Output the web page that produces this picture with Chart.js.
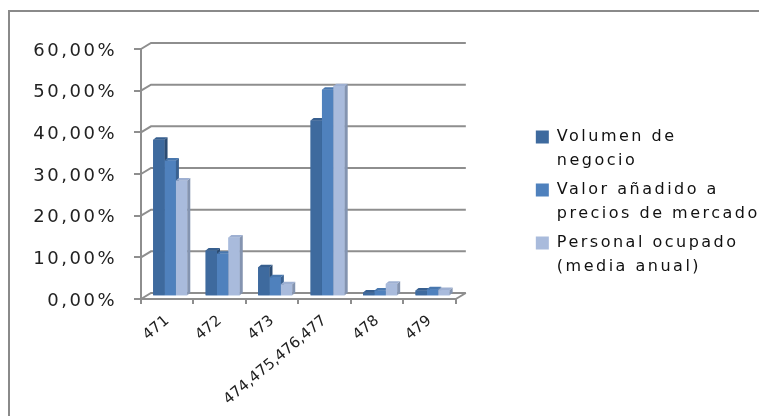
<!DOCTYPE html>
<html>
<head>
<meta charset="utf-8">
<script src="https://cdn.jsdelivr.net/npm/chart.js@4/dist/chart.umd.min.js"></script>
<style>
  html, body { margin: 0; padding: 0; background: #fff; overflow: hidden; }
  canvas { display: block; }
</style>
</head>
<body>
<canvas id="chart" width="759" height="416"></canvas>
<script>
// Categories (CNAE groups) and the share of each indicator, in percent
const categories = ['471', '472', '473', '474,475,476,477', '478', '479'];
const volumenNegocio = [37.6, 11.0, 7.0, 42.2, 0.9, 1.4];
const valorAnadido = [32.6, 10.2, 4.6, 49.6, 1.4, 1.7];
const personalOcupado = [27.8, 14.1, 2.9, 50.4, 3.0, 1.5];
const seriesNames = ['Volumen de negocio', 'Valor añadido a precios de mercado', 'Personal ocupado (media anual)'];
const legendLines = [['Volumen de', 'negocio'], ['Valor añadido a', 'precios de mercado'], ['Personal ocupado', '(media anual)']];
const yMin = 0, yMax = 60, yStep = 10;

// Front / right side / top shades for each series
const faceColors = [
  { front: '#3e6a9e', side: '#2b4b72', top: '#375f8f' },
  { front: '#4f81bd', side: '#3a6190', top: '#4877ae' },
  { front: '#a9bbdc', side: '#8494b0', top: '#9eb0d2' }
];
const lineGrey = '#8e8e8e';
const WALL = { dx: 10, dy: -6 };      // depth of the floor / back wall
const BAR_SHIFT = { dx: 3, dy: -2.7 }; // bars stand halfway into the floor
const BAR_DEPTH = { dx: 3, dy: -2.5 }; // thickness of each column

function withSpacing(obj, method, spacing) {
  if (!obj || obj['_spaced_' + method]) return;
  const orig = obj[method];
  obj[method] = function (...args) {
    const c = this.ctx;
    c.save();
    c.letterSpacing = spacing;
    const r = orig.apply(this, args);
    c.restore();
    return r;
  };
  obj['_spaced_' + method] = true;
}

const perspective = {
  id: 'perspective',
  beforeLayout(chart) {
    // wide tracking for the value axis and the legend
    withSpacing(chart.scales.y, 'drawLabels', '2.5px');
    withSpacing(chart.legend, 'fit', '1.9px');
    withSpacing(chart.legend, 'draw', '2.5px');
    // let the slanted category labels run below the axis box
    if (chart.scales.x) chart.scales.x._computeLabelArea = () => undefined;
  },
  beforeDraw(chart) {
    const ctx = chart.ctx;
    // frame around the whole chart
    ctx.save();
    ctx.strokeStyle = '#8a8a8a';
    ctx.lineWidth = 2;
    ctx.strokeRect(9, 11, 900, 600);
    ctx.restore();
  },
  beforeDatasetsDraw(chart) {
    const { ctx, chartArea: a, scales: { y } } = chart;
    ctx.save();
    ctx.strokeStyle = lineGrey;
    ctx.lineWidth = 2;
    // back wall gridlines joined to the front axis ticks
    y.ticks.forEach(t => {
      const py = y.getPixelForValue(t.value);
      ctx.beginPath();
      ctx.moveTo(a.left, py);
      ctx.lineTo(a.left + WALL.dx, py + WALL.dy);
      ctx.lineTo(a.right + WALL.dx, py + WALL.dy);
      ctx.stroke();
    });
    // right edge of the floor
    ctx.beginPath();
    ctx.moveTo(a.right, a.bottom);
    ctx.lineTo(a.right + WALL.dx, a.bottom + WALL.dy);
    ctx.stroke();
    ctx.restore();
    ctx.save();
    ctx.translate(BAR_SHIFT.dx, BAR_SHIFT.dy);
  },
  afterDatasetsDraw(chart) {
    const ctx = chart.ctx;
    const metas = chart.data.datasets.map((d, i) => chart.getDatasetMeta(i));
    // paint columns left to right so each hides its neighbour's side face
    for (let j = 0; j < categories.length; j++) {
      metas.forEach((m, i) => {
        const bar = m.data[j];
        bar.draw(ctx);
        const { x, y, base, width } = bar.getProps(['x', 'y', 'base', 'width'], true);
        const l = x - width / 2, r = x + width / 2;
        ctx.fillStyle = faceColors[i].side;
        ctx.beginPath();
        ctx.moveTo(r, y);
        ctx.lineTo(r + BAR_DEPTH.dx, y + BAR_DEPTH.dy);
        ctx.lineTo(r + BAR_DEPTH.dx, base + BAR_DEPTH.dy);
        ctx.lineTo(r, base);
        ctx.closePath();
        ctx.fill();
        ctx.fillStyle = faceColors[i].top;
        ctx.beginPath();
        ctx.moveTo(l, y);
        ctx.lineTo(l + BAR_DEPTH.dx, y + BAR_DEPTH.dy);
        ctx.lineTo(r + BAR_DEPTH.dx, y + BAR_DEPTH.dy);
        ctx.lineTo(r, y);
        ctx.closePath();
        ctx.fill();
      });
    }
    ctx.restore();
  }
};

const seriesValues = [volumenNegocio, valorAnadido, personalOcupado];

new Chart(document.getElementById('chart'), {
  type: 'bar',
  data: {
    labels: categories,
    datasets: seriesValues.map((vals, i) => ({
      label: seriesNames[i],
      data: vals,
      backgroundColor: faceColors[i].front,
      borderWidth: 0,
      categoryPercentage: 0.65,
      barPercentage: 1.0
    }))
  },
  options: {
    responsive: false,
    animation: false,
    devicePixelRatio: 1,
    layout: { padding: { left: 12, top: 49, right: 0, bottom: 53 } },
    plugins: {
      tooltip: { enabled: false },
      legend: {
        position: 'right',
        align: 'center',
        maxWidth: 320,
        labels: {
          boxWidth: 13,
          boxHeight: 13,
          padding: 5,
          color: '#111',
          font: { family: 'DejaVu Sans', size: 16, lineHeight: '24px' },
          generateLabels: (chart) => chart.data.datasets.map((ds, i) => ({
            text: legendLines[i],
            fillStyle: ds.backgroundColor,
            strokeStyle: ds.backgroundColor,
            lineWidth: 0,
            hidden: false,
            fontColor: '#111',
            textAlign: 'left',
            datasetIndex: i
          }))
        }
      }
    },
    scales: {
      x: {
        grid: { drawOnChartArea: false, drawTicks: true, tickLength: 5, color: lineGrey, lineWidth: 2 },
        border: { color: lineGrey, width: 2 },
        ticks: {
          autoSkip: false, minRotation: 40, maxRotation: 40, padding: 8,
          color: '#222', font: { family: 'DejaVu Sans', size: 15 }
        },
        afterFit(s) { s.height = 64; }
      },
      y: {
        min: yMin, max: yMax,
        grid: { drawOnChartArea: false, drawTicks: true, tickLength: 7, color: lineGrey, lineWidth: 2 },
        border: { color: lineGrey, width: 2 },
        ticks: {
          stepSize: yStep, padding: 17, labelOffset: 2,
          color: '#222', font: { family: 'DejaVu Sans', size: 18 },
          callback: v => v.toFixed(2).replace('.', ',') + '%'
        },
        afterFit(s) { s.width = 129; }
      },
      gap: {
        type: 'linear', position: 'right', display: true,
        grid: { display: false }, border: { display: false }, ticks: { display: false },
        afterFit(s) { s.width = 75; }
      }
    }
  },
  plugins: [perspective]
});
</script>
</body>
</html>
